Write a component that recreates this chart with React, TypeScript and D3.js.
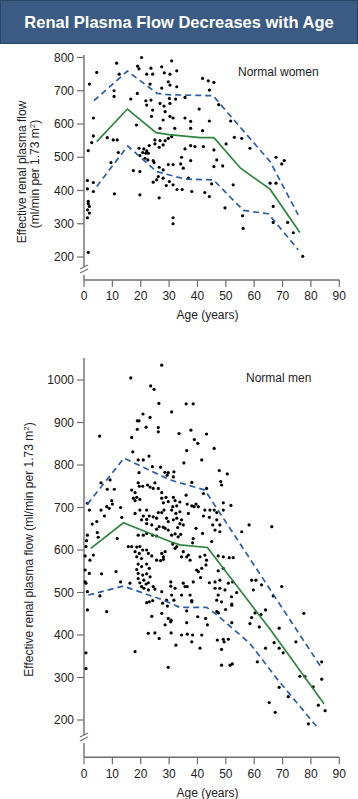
import React from "react";
import * as d3 from "d3";

// ---------- DATA ----------
const xTicks = [0, 10, 20, 30, 40, 50, 60, 70, 80, 90];
const womenYTicks = [200, 300, 400, 500, 600, 700, 800];
const menYTicks = [200, 300, 400, 500, 600, 700, 800, 900, 1000];

const womenMean: [number, number][] = [[4.5,547],[15.3,645],[25.4,574],[30,568],[41,559],[45.8,559],[55.2,467],[65.6,404],[76.1,274]];
const womenUpper: [number, number][] = [[3.5,670],[15.3,759],[25.8,692],[30,688],[45.6,685],[48,660],[65.6,487],[75.5,327]];
const womenLower: [number, number][] = [[4.5,412],[15.4,534],[25.6,457],[33,440],[36,434],[45.6,432],[56.2,340],[65,330],[75.5,222]];

const menMean: [number, number][] = [[2.4,604],[13.9,664],[30.3,620],[33.8,612],[43.5,606],[66,410],[84.6,238]];
const menUpper: [number, number][] = [[1.2,708],[14.1,816],[30.3,765],[42.6,741],[83.8,322]];
const menLower: [number, number][] = [[1.5,494],[13.9,515],[28,482],[33.8,465],[43.2,465],[46.2,451],[58.5,380],[67.9,298],[82.2,183]];

const womenPoints: [number, number][] = [
[20.3,800],[11.5,783],[18.9,774],[19.4,766],[23.6,768],[22.1,750],[24.2,750],[30.9,790],[32.7,760],[27.4,772],[28.3,754],[12.4,750],[4.5,755],[1.9,720],[23.3,720],[27.4,708],[29.7,727],[30.3,717],[32.7,712],[10.6,700],[18.8,692],[10.6,683],[16.5,675],[21.8,670],[23.6,672],[30.1,677],[32.3,675],[22.1,657],[26.8,662],[28.2,654],[30.3,662],[24.2,642],[28.6,637],[3.3,618],[23.8,623],[27.9,612],[30.3,623],[31.4,618],[18.5,597],[26.8,587],[32,587],[3.3,564],[8.2,559],[10.3,552],[11.7,552],[2.7,544],[25,552],[26.8,550],[28.6,550],[29.7,557],[30.9,562],[23,535],[25,540],[26.5,530],[27.9,537],[12.1,514],[1.5,520],[19.4,527],[21.1,525],[22.1,519],[20.7,514],[21.8,512],[22.7,512],[19.7,505],[21.5,497],[22.5,492],[24.4,490],[24.7,484],[9.5,484],[29.7,478],[31.4,478],[17.4,460],[19.7,457],[26.5,470],[27.9,462],[26.2,442],[27.9,437],[24.4,425],[25.6,432],[30.1,427],[1.2,430],[1.2,405],[3.3,424],[3.3,397],[29,415],[31.4,417],[32.8,403],[10.7,390],[19.7,387],[26.5,378],[1.5,367],[1.5,360],[1.9,352],[1.2,342],[1.9,332],[1.2,318],[31.4,318],[31.4,300],[1.5,214],
[30.3,750],[35.6,680],[41.8,737],[43.8,730],[45.8,725],[44.2,702],[40.6,645],[35.6,618],[37.6,608],[44.2,609],[37.6,587],[41.8,580],[51.7,609],[47.5,658],[35.6,525],[37.6,535],[39.1,532],[42.1,532],[34.4,500],[37.6,490],[34.1,480],[35,467],[45.8,522],[46.8,492],[45.8,472],[48.9,474],[50.1,540],[53,560],[55.6,557],[58.5,527],[36.8,437],[34.6,403],[38,397],[42.6,394],[44.2,382],[45,420],[52.6,417],[49.7,348],[55.9,324],[56.1,286],[67.7,500],[70.6,490],[69.7,480],[65.6,422],[67.7,422],[66.7,352],[66.7,304],[71.8,304],[73.8,273],[77.1,202]
];

const menPoints: [number, number][] = [
[27.4,1035],[16.5,1005],[23.5,986],[24.7,978],[26.4,945],[20.8,920],[18.8,904],[19.4,904],[23.3,912],[21.9,889],[18.8,884],[26.2,888],[26.2,878],[5.5,868],[16.8,865],[17.2,831],[19.1,812],[20.9,812],[22.9,821],[24.1,796],[27,795],[19.4,782],
[36,944],[38.5,944],[30.9,925],[37.7,882],[33.5,874],[43.2,873],[38.9,860],[40.1,851],[45.9,839],[36.2,834],[41.5,812],[35.2,805],[47.7,787],[50.5,779],[28.5,783],[29.7,782],[29.3,776],
[31.7,784],[31.5,772],[9.2,765],[8.2,743],[6,758],[10.7,743],[9.8,716],[8,702],[8.9,698],[6,694],[7.2,680],[1.2,710],[1.9,694],[4.5,667],[12.9,700],[16.8,741],[18,735],[17.4,722],[18.6,724],[19.1,758],[19.5,750],[20.7,750],[18,716],[19.7,719],[22.4,753],[23.3,748],[24.4,745],[25,758],[26.2,745],[27.4,735],[28.9,724],[29.7,714],[27.4,722],[28,711],[31.5,724],[32.1,716],[32.7,704],[18,686],[19.7,694],[22.1,694],[23,680],[20.9,680],[20.3,671],[22.1,672],[24.4,678],[25.6,675],[26.2,688],[27.4,688],[28.2,694],[29.1,675],[29.7,667],[31.5,671],[32.7,675],[22.1,662],[23.9,659],[26.5,655],[27.9,654],[19.1,635],[20.9,635],[22.1,639],[25.6,649],[28.6,651],[29.7,647],[24.2,635],[25.6,633],[30.9,635],[32.1,638],[33.2,631],[13.3,677],[11.7,627],[4.7,641],[5,630],[1.2,635],[0.7,608],
[15.6,608],[16.8,608],[18.6,607],[19.7,608],[18,596],[19.5,592],[20.7,600],[22.1,600],[22.7,592],[23.9,586],[18.6,584],[20.3,580],[27.4,592],[28,584],[28.6,596],[32.7,608],[19.1,567],[20.3,561],[22.1,567],[23,557],[18.6,554],[25.6,576],[27,575],[28,578],[2.1,576],[0.4,553],[1.9,545],[6.2,544],[11.3,549],[0.4,525],[0.7,522],[12.9,525],[1.2,502],[5.6,492],[19.1,545],[20.7,541],[22.1,544],[23.3,537],[19.1,533],[19.7,523],[21.1,529],[21.9,520],[22.7,523],[20.3,514],[21.1,510],[22.7,506],[24.4,514],[25,508],[27.4,502],[30.6,525],[30.6,515],[22.1,476],[23,478],[30.9,494],[27.4,451],[29.7,439],[30.6,431],[28.6,424],[1.2,459],[8,455],
[10,708],[2.9,661],[0.9,622],[16.2,522],[3.3,588],[0.4,586],
[24.2,481],[27.7,475],[29.1,482],[23.9,444],[22.7,404],[25,405],[26.5,392],[29.4,468],[30.7,405],[32.4,376],[34.4,400],[29.7,324],[36.2,457],[36.4,402],[38,481],[38.3,400],[38,384],[40.1,443],[40.9,369],[41.5,400],[42.9,439],[43.5,424],[47,388],[47.4,452],[48.5,366],[48.5,329],[49.1,390],[49.4,384],[49.9,460],[50.9,390],[51.5,329],[52.3,332],[52.1,429],[52.1,473],[58.5,427],[59.1,441],[60.3,452],[61.8,419],[62.4,448],[61.1,337],[64,369],[64,459],[65.3,241],[67,382],[67.4,218],[68.8,416],[68.8,369],[68.8,277],[70.2,358],[72,255],[74.7,384],[76.1,303],[77.5,451],[77.9,302],[79.1,191],[80.8,278],[82.6,235],[83.8,337],[83.8,296],[85,222],[18,361],[0.7,358],[0.7,321],
[48.2,761],[48.5,753],[38,759],[43.2,745],[42.1,733],[36,729],[33.8,713],[49.1,711],[51.8,705],[31.3,702],[30.9,694],[36.4,708],[38,704],[38.8,702],[39.5,708],[40.3,702],[32.4,686],[33.8,690],[36.8,686],[42.6,694],[44.4,694],[45.9,694],[46.8,688],[49.1,694],[42.1,680],[44.2,677],[46.8,671],[34.4,671],[33.8,662],[35,659],[33,653],[39.5,651],[45.4,659],[47.9,659],[46.2,647],[47.9,643],[58.2,659],[66.2,655],[55.6,643],[34.1,637],[41.8,639],[38.5,627],[38.3,617],[45,620],[31.3,614],[32.1,604],[35,596],[34.4,584],[36.2,584],[36.8,588],[37.4,576],[40.9,584],[42.6,588],[43.2,576],[47.3,586],[49.1,584],[51.2,582],[52.6,582],[39.7,553],[40.3,549],[41.5,557],[43,565],[47.3,551],[49.1,557],[41.1,535],[59.1,529],[60.6,529],[32.1,510],[35,522],[35.6,514],[36.4,514],[38.5,525],[44.2,523],[46.2,525],[47.9,529],[46.2,510],[47.9,510],[49.7,506],[50.9,522],[52.4,525],[53.8,500],[59.7,506],[62.6,518],[69.7,514],[66.7,492],[34.4,494],[37.4,494],[47.3,494],[52,490],[46.8,482],[48.5,478],[38,478],[52.1,470],[31.7,482],[46.8,455],[30.7,435],[36.2,429]
];

// ---------- STYLE ----------
const FONT = "'Liberation Sans', Arial, Helvetica, sans-serif";
const AXIS = "#6e6e6e";
const BLUE = "#2d5ca6";
const GREEN = "#2e8540";
const TXT = "#222";

type Cfg = {
  yTicks: number[];
  yDomain: [number, number];
  yRange: [number, number];
  axisTop: number;
  breakY: number;
  xAxisY: number;
  tickLabelY: number;
  ageLabelY: number;
  points: [number, number][];
  mean: [number, number][];
  upper: [number, number][];
  lower: [number, number][];
  label: string;
  labelX: number;
  labelY: number;
};

function Panel({ c }: { c: Cfg }) {
  const x = d3.scaleLinear().domain([0, 90]).range([84, 339.3]);
  const y = d3.scaleLinear().domain(c.yDomain).range(c.yRange);
  const line = d3.line<[number, number]>().x((d) => x(d[0])).y((d) => y(d[1]));
  const x0 = x(0);
  return (
    <g fontFamily={FONT}>
      {/* y axis with break */}
      <line x1={x0} x2={x0} y1={c.axisTop} y2={c.breakY - 3} stroke={AXIS} strokeWidth={1.4} />
      <line x1={x0} x2={x0} y1={c.breakY + 5} y2={c.xAxisY} stroke={AXIS} strokeWidth={1.4} />
      <line x1={x0 - 4} x2={x0 + 4} y1={c.breakY - 1} y2={c.breakY - 5} stroke={AXIS} strokeWidth={1.2} />
      <line x1={x0 - 4} x2={x0 + 4} y1={c.breakY + 3} y2={c.breakY - 1} stroke={AXIS} strokeWidth={1.2} />
      {c.yTicks.map((t) => (
        <g key={t}>
          <line x1={x0 - 7} x2={x0} y1={y(t)} y2={y(t)} stroke={AXIS} strokeWidth={1.2} />
          <text x={x0 - 10} y={y(t)} dy="0.35em" textAnchor="end" fontSize={12} fill={TXT}>{t}</text>
        </g>
      ))}
      {/* x axis */}
      <line x1={x0} x2={x(90)} y1={c.xAxisY} y2={c.xAxisY} stroke={AXIS} strokeWidth={1.4} />
      {xTicks.map((t) => (
        <g key={t}>
          <line x1={x(t)} x2={x(t)} y1={c.xAxisY} y2={c.xAxisY + 7} stroke={AXIS} strokeWidth={1.2} />
          <text x={x(t)} y={c.tickLabelY} textAnchor="middle" fontSize={12} fill={TXT}>{t}</text>
        </g>
      ))}
      <text x={207.5} y={c.ageLabelY} textAnchor="middle" fontSize={12} fill={TXT}>Age (years)</text>
      {/* points */}
      {c.points.map((p, i) => (
        <circle key={i} cx={x(p[0])} cy={y(p[1])} r={1.6} fill="#000" />
      ))}
      {/* lines */}
      <path d={line(c.upper) || ""} fill="none" stroke={BLUE} strokeWidth={1.7} strokeDasharray="6,4" />
      <path d={line(c.lower) || ""} fill="none" stroke={BLUE} strokeWidth={1.7} strokeDasharray="6,4" />
      <path d={line(c.mean) || ""} fill="none" stroke={GREEN} strokeWidth={1.7} />
      <text x={c.labelX} y={c.labelY} fontSize={12} fill={TXT}>{c.label}</text>
    </g>
  );
}

export default function App() {
  const top: Cfg = {
    yTicks: womenYTicks, yDomain: [200, 800], yRange: [257, 57.5],
    axisTop: 55, breakY: 270, xAxisY: 280, tickLabelY: 300, ageLabelY: 318.5,
    points: womenPoints, mean: womenMean, upper: womenUpper, lower: womenLower,
    label: "Normal women", labelX: 238, labelY: 75.5,
  };
  const bottom: Cfg = {
    yTicks: menYTicks, yDomain: [200, 1000], yRange: [720, 380],
    axisTop: 358, breakY: 738, xAxisY: 757.3, tickLabelY: 778, ageLabelY: 796.5,
    points: menPoints, mean: menMean, upper: menUpper, lower: menLower,
    label: "Normal men", labelX: 246, labelY: 381.5,
  };
  return (
    <svg width={358} height={799} style={{ position: "absolute", left: 0, top: 0, background: "#fff" }}>
      <rect x={0.5} y={0.5} width={357} height={43} fill="#3b5b84" stroke="#2a4466" strokeWidth={1} />
      <text x={179} y={27.5} textAnchor="middle" fontFamily={FONT} fontWeight="bold" fontSize={16.5} fill="#fff">
        Renal Plasma Flow Decreases with Age
      </text>
      <Panel c={top} />
      <Panel c={bottom} />
      <g fontFamily={FONT} fontSize={12} fill={TXT} textAnchor="middle">
        <text transform="translate(26,172) rotate(-90)">Effective renal plasma flow</text>
        <text transform="translate(38.5,174) rotate(-90)">
          (ml/min per 1.73 m<tspan dy="-4" fontSize={8}>2</tspan><tspan dy="4">)</tspan>
        </text>
        <text transform="translate(32.5,549.5) rotate(-90)">
          Effective renal plasma flow (ml/min per 1.73 m<tspan dy="-4" fontSize={8}>2</tspan><tspan dy="4">)</tspan>
        </text>
      </g>
    </svg>
  );
}
